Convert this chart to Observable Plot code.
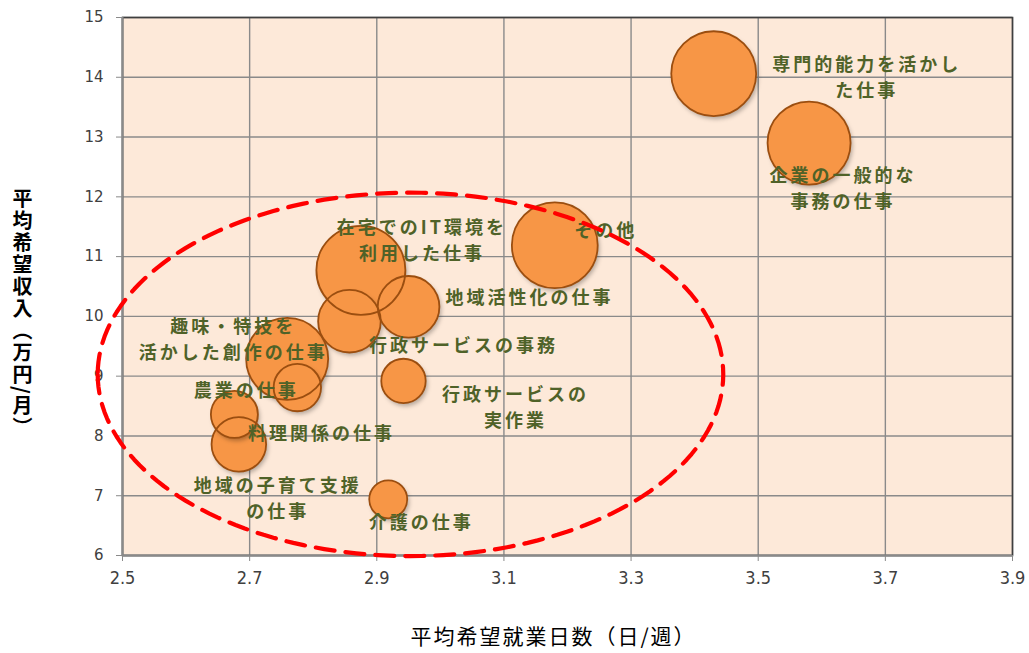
<!DOCTYPE html>
<html>
<head>
<meta charset="utf-8">
<script src="https://cdn.jsdelivr.net/npm/d3@7"></script>
<script src="https://cdn.jsdelivr.net/npm/@observablehq/plot@0.6"></script>
<style>
  body { margin: 0; background: #ffffff; }
  #chart svg { display: block; }
  g[aria-description="bubble-fill"] circle { filter: drop-shadow(2px 3px 2px rgba(0,0,0,0.28)); }
  g[aria-description="bubble-label"] text { letter-spacing: 3px; }
  g[aria-description="y-title"] text { writing-mode: vertical-rl; letter-spacing: 2px; }
  g[aria-description="x-title"] text { letter-spacing: 2px; }
</style>
</head>
<body>
<div id="chart"></div>
<script>
// ---- data ----
const categories = [
  "専門的能力を活かし\nた仕事",
  "企業の一般的な\n事務の仕事",
  "その他",
  "在宅でのIT環境を\n利用した仕事",
  "地域活性化の仕事",
  "行政サービスの事務",
  "趣味・特技を\n活かした創作の仕事",
  "農業の仕事",
  "料理関係の仕事",
  "地域の子育て支援\nの仕事",
  "行政サービスの\n実作業",
  "介護の仕事"
];
const workDays   = [3.43, 3.58, 3.18, 2.875, 2.95, 2.857, 2.759, 2.775, 2.676, 2.683, 2.942, 2.918]; // 日/週
const income     = [14.06, 12.90, 11.19, 10.77, 10.16, 9.92, 9.29, 8.81, 8.36, 7.86, 8.92, 6.94];   // 万円/月
const bubbleSize = [91, 87, 93, 100, 48, 49.5, 85, 28.4, 27.9, 37.6, 24.9, 18.2];
const xTicks = [2.5, 2.7, 2.9, 3.1, 3.3, 3.5, 3.7, 3.9];
const yTicks = [6, 7, 8, 9, 10, 11, 12, 13, 14, 15];
const xTitle = "平均希望就業日数（日/週）";
const yTitle = "平均希望収入（万円/月）";

// ---- layout ----
const labelOffsets = [
  [153, 2], [34, 44], [51, -17], [61, -32], [121, -11], [114, 22],
  [-54, -21], [-51, 1], [87, 17], [39, 52], [112, 25], [33, 21]
];
const data = categories.map((name, i) => ({name, days: workDays[i], income: income[i], size: bubbleSize[i]}));

// highlight ellipse (annotation) in data units
const ell = {cx: 2.953, cy: 9.03, rx: 0.492, ry: 3.04};
const ellipsePts = d3.range(0, 362, 2).map(a => {
  const t = (a + 180) * Math.PI / 180;
  return {x: ell.cx + ell.rx * Math.cos(t), y: ell.cy + ell.ry * Math.sin(t)};
});

const labelFont = "'Noto Sans CJK JP', 'Noto Sans CJK SC', sans-serif";

const chart = Plot.plot({
  width: 1029,
  height: 653,
  marginLeft: 122,
  marginRight: 17,
  marginTop: 17,
  marginBottom: 98,
  style: {background: "#ffffff", overflow: "visible"},
  x: {domain: [2.5, 3.9]},
  y: {domain: [6, 15]},
  r: {type: "sqrt", domain: [0, 100], range: [0, 44.5]},
  marks: [
    Plot.frame({fill: "#FDE9D9"}),
    Plot.gridX(xTicks, {stroke: "#8a8a8a", strokeOpacity: 1, strokeWidth: 1.4}),
    Plot.gridY(yTicks, {stroke: "#8a8a8a", strokeOpacity: 1, strokeWidth: 1.4}),
    Plot.frame({stroke: "#3f3f3f", strokeWidth: 1.6}),
    Plot.ruleX([2.5], {stroke: "#8a8a8a", strokeWidth: 2}),
    Plot.ruleY([6], {stroke: "#8a8a8a", strokeWidth: 2}),
    Plot.axisX(xTicks, {
      tickSize: 6, tickPadding: 10, tickFormat: d => d.toFixed(1), label: null,
      stroke: "#8a8a8a", fill: "#404040",
      fontFamily: "'Liberation Sans Narrow', 'DejaVu Sans Condensed', sans-serif", fontSize: 18
    }),
    Plot.axisY(yTicks, {
      tickSize: 6, tickPadding: 13, tickFormat: d => String(d), label: null,
      stroke: "#8a8a8a", fill: "#404040",
      fontFamily: "'DejaVu Sans', sans-serif", fontSize: 15
    }),
    Plot.dot(data, {x: "days", y: "income", r: "size", fill: "#F79646", stroke: "none", ariaDescription: "bubble-fill"}),
    Plot.dot(data, {x: "days", y: "income", r: "size", fill: "none", stroke: "#9B4E10", strokeWidth: 1.8}),
    ...data.map((d, i) => Plot.text([d], {
      x: "days", y: "income", text: "name",
      dx: labelOffsets[i][0], dy: labelOffsets[i][1],
      textAnchor: "middle", lineAnchor: "middle", lineHeight: 1.45,
      fill: "#4F6228", fontWeight: "bold", fontSize: 18, fontFamily: labelFont,
      ariaDescription: "bubble-label"
    })),
    Plot.line(ellipsePts, {x: "x", y: "y", stroke: "#FF0000", strokeWidth: 4.2, strokeDasharray: "19,11", curve: "linear"}),
    Plot.text([xTitle], {
      frameAnchor: "bottom", dy: 82, dx: -14, textAnchor: "middle", lineAnchor: "middle",
      fill: "#000000", fontSize: 21, fontFamily: labelFont, ariaDescription: "x-title"
    }),
    Plot.text([yTitle], {
      frameAnchor: "left", dx: -100, dy: 21, textAnchor: "middle", lineAnchor: "middle",
      fill: "#000000", fontSize: 20, fontWeight: "bold", fontFamily: labelFont, ariaDescription: "y-title"
    })
  ]
});
document.getElementById("chart").appendChild(chart);
</script>
</body>
</html>
